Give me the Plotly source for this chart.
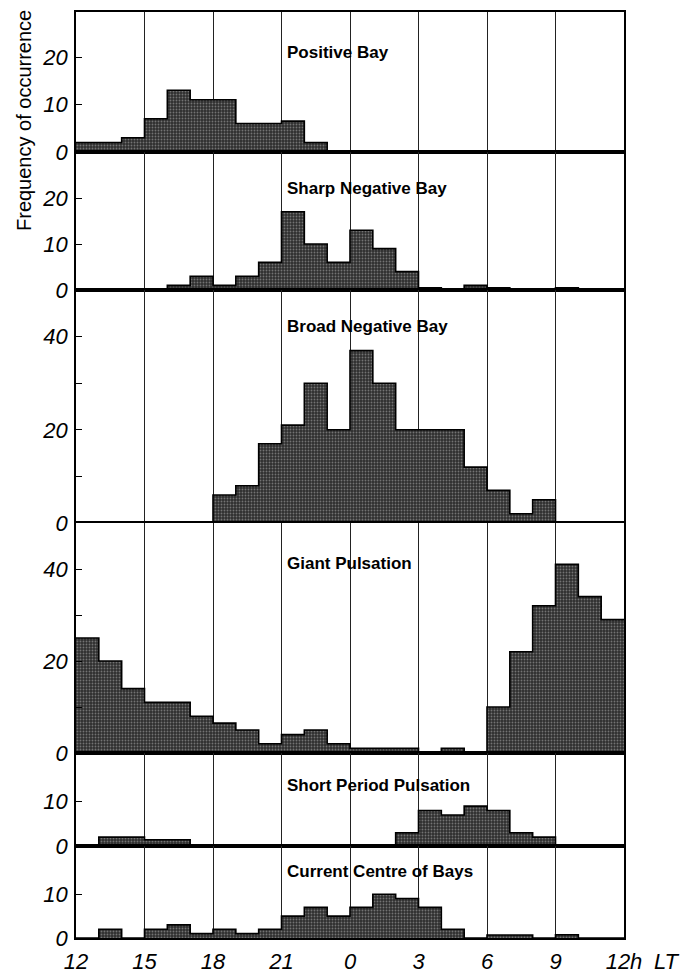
import plotly.graph_objects as go
from plotly.subplots import make_subplots

# ---------------- data (hourly bins, counted from 12 LT) ----------------
bin_start = list(range(24))            # bin i covers hour i .. i+1 after 12 LT
x_tick_vals = [0, 3, 6, 9, 12, 15, 18, 21, 24]
x_tick_text = ["12", "15", "18", "21", "0", "3", "6", "9", "12h"]

panel_titles = ["Positive Bay", "Sharp Negative Bay", "Broad Negative Bay",
                "Giant Pulsation", "Short Period Pulsation", "Current Centre of Bays"]

positive_bay = [2, 2, 3, 7, 13, 11, 11, 6, 6, 6.5, 2, 0,
                0, 0, 0, 0, 0, 0, 0, 0, 0, 0, 0, 0]
sharp_negative_bay = [0, 0, 0, 0, 1, 3, 1, 3, 6, 17, 10, 6,
                      13, 9, 4, 0.5, 0, 1, 0.5, 0, 0, 0.5, 0, 0]
broad_negative_bay = [0, 0, 0, 0, 0, 0, 6, 8, 17, 21, 30, 20,
                      37, 30, 20, 20, 20, 12, 7, 2, 5, 0, 0, 0]
giant_pulsation = [25, 20, 14, 11, 11, 8, 6.5, 5, 2, 4, 5, 2,
                   1, 1, 1, 0, 1, 0, 10, 22, 32, 41, 34, 29]
short_period_pulsation = [0, 2, 2, 1.4, 1.4, 0, 0, 0, 0, 0, 0, 0,
                          0, 0, 3, 8, 7, 9, 8, 3, 2, 0, 0, 0]
current_centre_of_bays = [0, 2, 0, 2, 3, 1, 2, 1, 2, 5, 7, 5,
                          7, 10, 9, 7, 2, 0, 0.7, 0.7, 0, 0.75, 0, 0]

series = [positive_bay, sharp_negative_bay, broad_negative_bay,
          giant_pulsation, short_period_pulsation, current_centre_of_bays]

y_max = [29.5, 30, 50, 50, 21, 21]
y_tick_vals = [[0, 10, 20], [0, 10, 20], [0, 10, 20, 30, 40],
               [0, 10, 20, 30, 40], [0, 10], [0, 10]]
y_tick_text = [["0", "10", "20"], ["0", "10", "20"], ["0", "", "20", "", "40"],
               ["0", "", "20", "", "40"], ["0", "10"], ["0", "10"]]

# ---------------- layout geometry (pixels) ----------------
W, H = 689, 974
L, R, T, B = 76, 65, 12, 36
row_px = [140, 138, 233, 230, 93, 92]
title_y_px = [53, 188, 327, 563, 785, 871]
title_x_px = 285

plot_h = H - T - B
plot_w = W - L - R

fig = make_subplots(rows=6, cols=1, shared_xaxes=True, vertical_spacing=0,
                    row_heights=[h / sum(row_px) for h in row_px])

for i, vals in enumerate(series):
    r = i + 1
    fig.add_trace(go.Bar(
        x=[b + 0.5 for b in bin_start], y=vals, width=1,
        marker=dict(color="#3a3a3a", line=dict(width=0),
                    pattern=dict(shape=".", fgcolor="#b8b8b8", bgcolor="#2e2e2e",
                                 size=3, solidity=0.3)),
        showlegend=False, hoverinfo="skip"), row=r, col=1)
    fig.add_trace(go.Scatter(
        x=bin_start + [24], y=vals + [vals[-1]], mode="lines",
        line=dict(shape="hv", color="black", width=1.6),
        showlegend=False, hoverinfo="skip"), row=r, col=1)
    fig.update_yaxes(range=[0, y_max[i]], tickmode="array",
                     tickvals=y_tick_vals[i], ticktext=y_tick_text[i],
                     ticks="inside", ticklen=6, tickwidth=1.2, tickcolor="black",
                     showline=True, mirror=True, linecolor="black", linewidth=1.6,
                     showgrid=False, zeroline=False, ticklabelstandoff=2,
                     automargin=False,
                     tickfont=dict(family="Liberation Sans", size=22,
                                   color="black", style="italic"),
                     row=r, col=1)
    fig.update_xaxes(range=[0, 24], tickmode="array", tickvals=x_tick_vals,
                     ticktext=x_tick_text, showgrid=True, gridcolor="#222222",
                     gridwidth=1, showline=True, mirror=True, linecolor="black",
                     linewidth=1.6, zeroline=False, ticks="",
                     showticklabels=(r == 6), ticklabelstandoff=3,
                     automargin=False,
                     tickfont=dict(family="Liberation Sans", size=22,
                                   color="black", style="italic"),
                     row=r, col=1)
    fig.add_annotation(text=panel_titles[i], xref="paper", yref="paper",
                       x=(title_x_px - L) / plot_w,
                       y=(H - B - title_y_px[i]) / plot_h,
                       xanchor="left", yanchor="middle", showarrow=False,
                       font=dict(family="Liberation Sans", size=17, color="black",
                                 weight="bold"))

fig.add_annotation(text="Frequency of occurrence", textangle=-90,
                   xref="paper", yref="paper",
                   x=(24 - L) / plot_w, y=(H - B - 121) / plot_h,
                   xanchor="center", yanchor="middle", showarrow=False,
                   font=dict(family="Liberation Sans", size=20, color="black"))
fig.add_annotation(text="LT", xref="paper", yref="paper",
                   x=(667 - L) / plot_w, y=(H - B - 947) / plot_h,
                   xanchor="center", yanchor="top", showarrow=False,
                   font=dict(family="Liberation Sans", size=22, color="black",
                             style="italic"))

fig.update_layout(width=W, height=H, margin=dict(l=L, r=R, t=T, b=B,
                                                 autoexpand=False),
                  paper_bgcolor="white", plot_bgcolor="white", bargap=0)

fig.write_html("out.html")
